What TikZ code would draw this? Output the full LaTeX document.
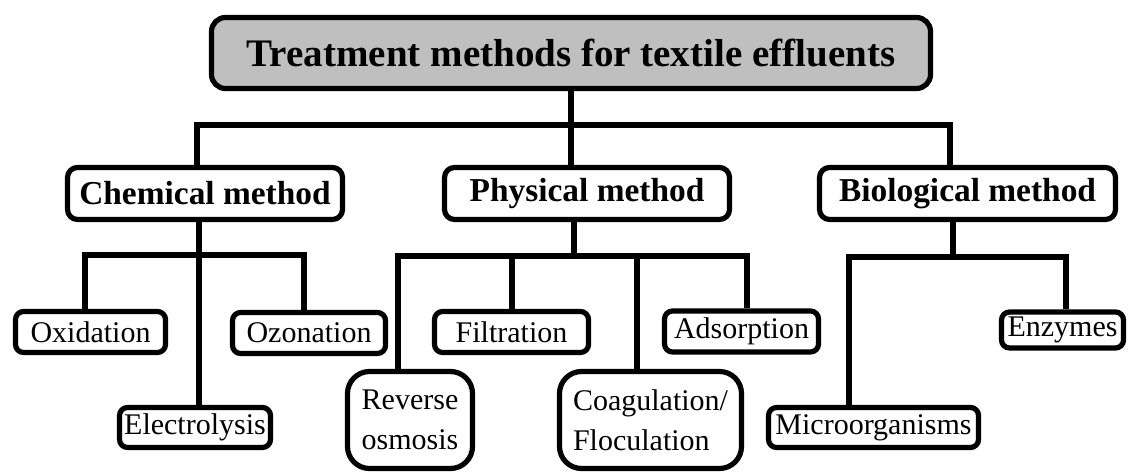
\documentclass[tikz,border=0pt]{standalone}
\usepackage{fontspec}
\setmainfont{Liberation Serif}
\usetikzlibrary{positioning}
\tikzset{
  titlebox/.style={
    rectangle, draw=black, fill=black!25, line width=2.6pt,
    rounded corners=7pt, minimum width=359.5pt, minimum height=35.5pt,
    font=\fontsize{19.5}{22}\selectfont\bfseries, inner sep=0pt
  },
  methodbox/.style={
    rectangle, draw=black, fill=white, line width=2.6pt,
    rounded corners=5pt, minimum width=#1, minimum height=26pt,
    font=\fontsize{16.7}{19}\selectfont\bfseries, inner sep=0pt
  },
  methodbox/.default=140pt,
  leafbox/.style={
    rectangle, draw=black, fill=white, line width=2.6pt,
    rounded corners=4pt, minimum width=#1, minimum height=20.5pt,
    font=\fontsize{15}{20}\selectfont, align=center, inner sep=0pt
  },
  leafbox/.default=76pt,
  tallbox/.style={
    leafbox=#1, rounded corners=11pt, minimum height=48.5pt
  },
  branch/.style={
    line width=2.6pt, color=black
  },
}

\begin{document}
\begin{tikzpicture}[x=0.5pt, y=-0.5pt]
  \useasboundingbox (0,0) rectangle (1128,474);
  % top level
  \node[titlebox] (root) at (571,53) {Treatment methods for textile effluents};
  \node[methodbox=137.5pt] (chem) at (205,193.5) {Chemical method};
  \node[methodbox=142.5pt] (phys) at (587,193.5) {Physical method};
  \node[methodbox=148pt] (bio) at (967.5,193.5) {Biological method};
  % leaves
  \node[leafbox=75pt] (oxid) at (90.5,332) {Oxidation};
  \node[leafbox=76.5pt] (ozon) at (309,333) {Ozonation};
  \node[leafbox=75.5pt, minimum height=20pt] (elec) at (195,427.5) {Electrolysis};
  \node[leafbox=77pt] (filt) at (511.5,332) {Filtration};
  \node[leafbox=77pt] (adso) at (741.5,331.5) {Adsorption};
  \node[tallbox=62.5pt] (revo) at (410,420) {Reverse\\osmosis};
  \node[tallbox=91pt, align=left] (coag) at (650.5,420) {Coagulation/\\Floculation};
  \node[leafbox=105pt, minimum height=20pt] (micro) at (873.5,427.5) {Microorganisms};
  \node[leafbox=61pt, minimum height=18pt] (enzy) at (1062.5,330) {Enzymes};
  % connectors
  \coordinate (mainbar) at (571,125);
  \draw[branch] (root.south) -- (mainbar);
  \draw[branch] (chem.north -| 197,0) |- (mainbar) -| (bio.north -| 950,0);
  \draw[branch] (mainbar) -- (mainbar |- phys.north);
  \coordinate (chembar) at (199,255);
  \draw[branch] (chem.south -| chembar) -- (elec.north -| chembar);
  \draw[branch] (oxid.north -| 85,0) |- (chembar) -| (ozon.north -| 304,0);
  \coordinate (physbar) at (574,256);
  \draw[branch] (phys.south -| physbar) -- (physbar);
  \draw[branch] (revo.north -| 398,0) |- (physbar) -| (adso.north -| 747,0);
  \draw[branch] (filt.north -| 512,0) -- (physbar -| 512,0);
  \draw[branch] (coag.north -| 637,0) -- (physbar -| 637,0);
  \coordinate (biobar) at (953,257);
  \draw[branch] (bio.south -| biobar) -- (biobar);
  \draw[branch] (micro.north -| 849,0) |- (biobar) -| (enzy.north -| 1066,0);
\end{tikzpicture}
\end{document}
